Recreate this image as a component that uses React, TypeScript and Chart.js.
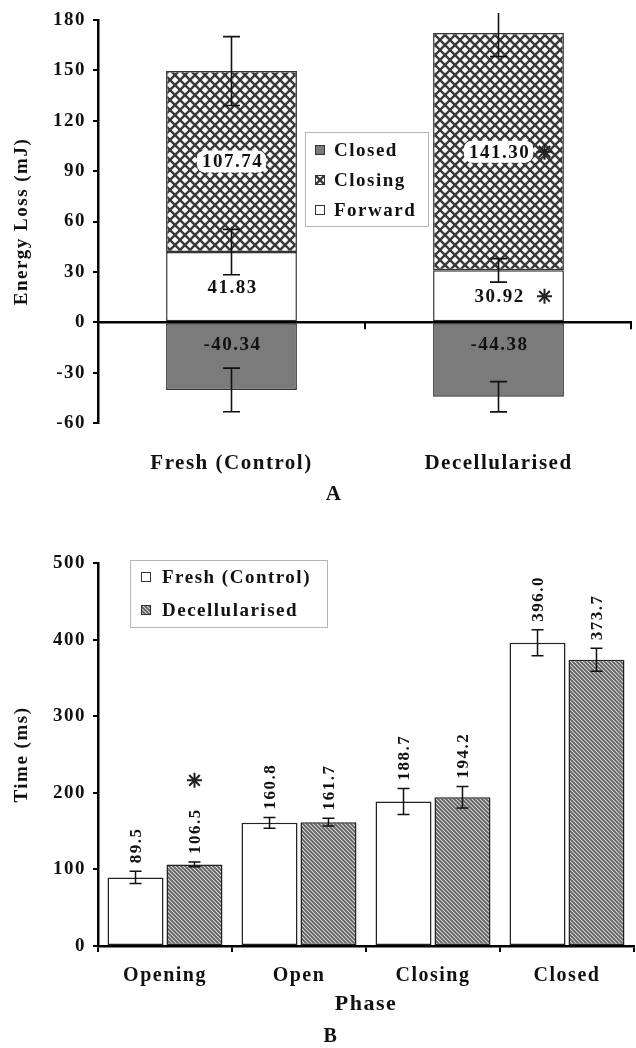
import React, { useEffect, useRef } from "react";
import { Chart, registerables } from "chart.js";

Chart.register(...registerables);

// ---------- Panel A data ----------
const groupsA = ["Fresh (Control)", "Decellularised"];
const forwardVals = [41.83, 30.92];
const closingVals = [107.74, 141.3];
const closedVals = [-40.34, -44.38];
const forwardErr = [13.5, 7];
const closingErr = [20.5, 14];
const closedErr = [13, 9];
const forwardSig = [false, true];
const closingSig = [false, true];
const yMinA = -60;
const yMaxA = 180;
const yStepA = 30;

// ---------- Panel B data ----------
const phases = ["Opening", "Open", "Closing", "Closed"];
const freshTimes = [89.5, 160.8, 188.7, 396.0];
const freshErr = [8, 7, 17, 17];
const decellTimes = [106.5, 161.7, 194.2, 373.7];
const decellErr = [3, 5, 14, 15];
const freshSig = [false, false, false, false];
const decellSig = [true, false, false, false];
const yMinB = 0;
const yMaxB = 500;
const yStepB = 100;

const FAMILY = "'Liberation Serif', 'Times New Roman', serif";
const INK = "#111";

function crossPattern(): CanvasPattern | string {
  const s = 10;
  const c = document.createElement("canvas");
  c.width = s;
  c.height = s;
  const g = c.getContext("2d");
  if (!g) return "#888";
  g.fillStyle = "#fff";
  g.fillRect(0, 0, s, s);
  g.strokeStyle = "#3a3a3a";
  g.lineWidth = 2.4;
  for (const o of [-s, 0, s]) {
    g.beginPath();
    g.moveTo(o - 3, -3);
    g.lineTo(o + s + 3, s + 3);
    g.stroke();
    g.beginPath();
    g.moveTo(o - 3, s + 3);
    g.lineTo(o + s + 3, -3);
    g.stroke();
  }
  return g.createPattern(c, "repeat") || "#888";
}

function diagPattern(): CanvasPattern | string {
  const s = 4;
  const c = document.createElement("canvas");
  c.width = s;
  c.height = s;
  const g = c.getContext("2d");
  if (!g) return "#777";
  g.fillStyle = "#5e5e5e";
  g.fillRect(0, 0, s, s);
  g.strokeStyle = "#dcdcdc";
  g.lineWidth = 1.1;
  for (const o of [-s, 0, s]) {
    g.beginPath();
    g.moveTo(o - 2, -2);
    g.lineTo(o + s + 2, s + 2);
    g.stroke();
  }
  return g.createPattern(c, "repeat") || "#777";
}

function errBar(ctx: CanvasRenderingContext2D, x: number, yScale: any, v: number, e: number, half: number) {
  const y1 = yScale.getPixelForValue(v + e);
  const y2 = yScale.getPixelForValue(v - e);
  ctx.beginPath();
  ctx.moveTo(x, y1);
  ctx.lineTo(x, y2);
  ctx.moveTo(x - half, y1);
  ctx.lineTo(x + half, y1);
  ctx.moveTo(x - half, y2);
  ctx.lineTo(x + half, y2);
  ctx.stroke();
}

function asterisk(ctx: CanvasRenderingContext2D, x: number, y: number, r: number) {
  ctx.save();
  ctx.lineWidth = 2;
  ctx.strokeStyle = "#222";
  ctx.beginPath();
  for (let k = 0; k < 4; k++) {
    const a = (k * Math.PI) / 4;
    ctx.moveTo(x - r * Math.cos(a), y - r * Math.sin(a));
    ctx.lineTo(x + r * Math.cos(a), y + r * Math.sin(a));
  }
  ctx.stroke();
  ctx.restore();
}

function drawSwatch(ctx: CanvasRenderingContext2D, x: number, y: number, s: number, fill: any) {
  ctx.fillStyle = fill;
  ctx.fillRect(x, y, s, s);
  ctx.strokeStyle = "#333";
  ctx.lineWidth = 1;
  ctx.strokeRect(x + 0.5, y + 0.5, s - 1, s - 1);
}

const spacingPlugin = {
  id: "spacing",
  beforeDraw(chart: any) {
    (chart.ctx as any).letterSpacing = "1.5px";
  },
  afterDraw(chart: any) {
    (chart.ctx as any).letterSpacing = "0px";
  },
};

export default function App() {
  const refA = useRef<HTMLCanvasElement>(null);
  const refB = useRef<HTMLCanvasElement>(null);

  useEffect(() => {
    const cross = crossPattern();
    const diag = diagPattern();
    const closedFill = "#7b7b7b";

    const decorA = {
      id: "decorA",
      afterDatasetsDraw(chart: any) {
        const { ctx, chartArea, scales, width, height } = chart;
        const xs = scales.x;
        const ys = scales.y;
        const y0 = ys.getPixelForValue(0);
        ctx.save();
        // zero line
        ctx.strokeStyle = "#000";
        ctx.lineWidth = 2.5;
        ctx.beginPath();
        ctx.moveTo(chartArea.left, y0);
        ctx.lineTo(chartArea.right, y0);
        ctx.stroke();
        // category boundary ticks
        const cw = (chartArea.right - chartArea.left) / groupsA.length;
        ctx.lineWidth = 2;
        ctx.beginPath();
        for (let i = 1; i <= groupsA.length; i++) {
          const bx = chartArea.left + i * cw - (i === groupsA.length ? 1 : 0);
          ctx.moveTo(bx, y0);
          ctx.lineTo(bx, y0 + 7);
        }
        ctx.stroke();
        // error bars (clipped a little above the plot top, like the source)
        ctx.save();
        ctx.beginPath();
        ctx.rect(0, chartArea.top - 7, width, height);
        ctx.clip();
        ctx.strokeStyle = "#111";
        ctx.lineWidth = 1.6;
        groupsA.forEach((_, i) => {
          const cx = xs.getPixelForValue(i);
          errBar(ctx, cx, ys, forwardVals[i], forwardErr[i], 8.5);
          errBar(ctx, cx, ys, forwardVals[i] + closingVals[i], closingErr[i], 8.5);
          errBar(ctx, cx, ys, closedVals[i], closedErr[i], 8.5);
        });
        ctx.restore();
        // value labels
        ctx.font = `bold 19px ${FAMILY}`;
        ctx.textAlign = "center";
        ctx.textBaseline = "middle";
        groupsA.forEach((_, i) => {
          const cx = xs.getPixelForValue(i);
          // closing
          const tC = closingVals[i].toFixed(2);
          const yc = ys.getPixelForValue(forwardVals[i] + closingVals[i] / 2);
          const wC = ctx.measureText(tC).width;
          ctx.fillStyle = "#fff";
          ctx.beginPath();
          ctx.roundRect(cx - wC / 2 - 4, yc - 11, wC + 8, 22, 8);
          ctx.fill();
          ctx.fillStyle = INK;
          ctx.fillText(tC, cx + 1, yc + 1);
          if (closingSig[i]) asterisk(ctx, cx + 46, yc, 8);
          // forward
          const tF = forwardVals[i].toFixed(2);
          const yf = ys.getPixelForValue(forwardVals[i] / 2);
          ctx.fillStyle = INK;
          ctx.fillText(tF, cx + 1, yf + 1);
          if (forwardSig[i]) asterisk(ctx, cx + 46, yf, 7.5);
          // closed
          const tD = closedVals[i].toFixed(2);
          ctx.fillText(tD, cx + 1, y0 + 23);
        });
        // panel letter
        ctx.font = `bold 21px ${FAMILY}`;
        ctx.fillText("A", 334, 495);
        // legend
        ctx.strokeStyle = "#b5b5b5";
        ctx.lineWidth = 1;
        ctx.strokeRect(305.5, 132.5, 123, 94);
        const items: [string, any][] = [
          ["Closed", closedFill],
          ["Closing", cross],
          ["Forward", "#fff"],
        ];
        ctx.font = `bold 19px ${FAMILY}`;
        ctx.textAlign = "left";
        items.forEach(([t, f], k) => {
          const iy = 150 + k * 30;
          drawSwatch(ctx, 315, iy - 5, 10, f);
          ctx.fillStyle = INK;
          ctx.fillText(t, 334, iy + 1);
        });
        ctx.restore();
      },
    };

    const decorB = {
      id: "decorB",
      afterDatasetsDraw(chart: any) {
        const { ctx, scales } = chart;
        const ys = scales.y;
        ctx.save();
        ctx.strokeStyle = "#111";
        ctx.lineWidth = 1.5;
        const sets = [
          { vals: freshTimes, errs: freshErr, sig: freshSig },
          { vals: decellTimes, errs: decellErr, sig: decellSig },
        ];
        sets.forEach((s, d) => {
          const meta = chart.getDatasetMeta(d);
          s.vals.forEach((v, i) => {
            const cx = meta.data[i].x;
            errBar(ctx, cx, ys, v, s.errs[i], 6);
          });
        });
        ctx.font = `bold 17px ${FAMILY}`;
        ctx.fillStyle = INK;
        sets.forEach((s, d) => {
          const meta = chart.getDatasetMeta(d);
          s.vals.forEach((v, i) => {
            const cx = meta.data[i].x;
            const top = ys.getPixelForValue(v + s.errs[i]) - 8;
            const t = v.toFixed(1);
            const w = ctx.measureText(t).width;
            ctx.save();
            ctx.translate(cx, top);
            ctx.rotate(-Math.PI / 2);
            ctx.textAlign = "left";
            ctx.textBaseline = "middle";
            ctx.fillText(t, 0, 1);
            ctx.restore();
            if (s.sig[i]) asterisk(ctx, cx, top - w - 28, 7.5);
          });
        });
        // panel letter
        ctx.font = `bold 20px ${FAMILY}`;
        ctx.textAlign = "center";
        ctx.textBaseline = "middle";
        ctx.fillText("B", 331, 502);
        // legend
        ctx.strokeStyle = "#b5b5b5";
        ctx.lineWidth = 1;
        ctx.strokeRect(130.5, 25.5, 197, 67);
        ctx.font = `bold 19px ${FAMILY}`;
        ctx.textAlign = "left";
        const items: [string, any][] = [
          ["Fresh (Control)", "#fff"],
          ["Decellularised", diag],
        ];
        items.forEach(([t, f], k) => {
          const iy = 42 + k * 33;
          drawSwatch(ctx, 141, iy - 5, 10, f);
          ctx.fillStyle = INK;
          ctx.fillText(t, 162, iy + 1);
        });
        ctx.restore();
      },
    };

    const tickFont = { family: FAMILY, size: 19, weight: "bold" as const };
    const catFontA = { family: FAMILY, size: 21, weight: "bold" as const };
    const catFontB = { family: FAMILY, size: 20, weight: "bold" as const };
    const titleFont = { family: FAMILY, size: 19, weight: "bold" as const };

    const chartA = new Chart(refA.current as HTMLCanvasElement, {
      type: "bar",
      data: {
        labels: groupsA,
        datasets: [
          {
            label: "Forward",
            data: forwardVals,
            backgroundColor: "#fff",
            borderColor: "#333",
            borderWidth: 1.5,
            borderSkipped: false,
          },
          {
            label: "Closing",
            data: closingVals,
            backgroundColor: cross as any,
            borderColor: "#333",
            borderWidth: 1.5,
            borderSkipped: false,
          },
          {
            label: "Closed",
            data: closedVals,
            backgroundColor: closedFill,
            borderColor: "#333",
            borderWidth: 1.5,
            borderSkipped: false,
          },
        ],
      },
      options: {
        responsive: false,
        animation: false,
        devicePixelRatio: 1,
        layout: { padding: { top: 20, right: 4, left: 0, bottom: 0 } },
        datasets: { bar: { categoryPercentage: 1, barPercentage: 0.49 } },
        plugins: { legend: { display: false }, tooltip: { enabled: false } },
        scales: {
          x: {
            stacked: true,
            grid: { display: false },
            border: { display: false },
            ticks: { font: catFontA, color: INK, padding: 20, maxRotation: 0 },
            afterFit: (s: any) => {
              s.height = 92;
            },
          },
          y: {
            stacked: true,
            min: yMinA,
            max: yMaxA,
            ticks: { stepSize: yStepA, font: tickFont, color: INK, padding: 7 },
            grid: { drawOnChartArea: false, drawTicks: true, tickLength: 5, color: "#000", lineWidth: 2 },
            border: { display: true, color: "#000", width: 2.5 },
            title: {
              display: true,
              text: "Energy Loss (mJ)",
              color: INK,
              font: titleFont,
              padding: { top: 11, bottom: 0 },
            },
            afterFit: (s: any) => {
              s.width = 98;
            },
          },
        },
      },
      plugins: [spacingPlugin, decorA],
    } as any);

    const chartB = new Chart(refB.current as HTMLCanvasElement, {
      type: "bar",
      data: {
        labels: phases,
        datasets: [
          {
            label: "Fresh (Control)",
            data: freshTimes,
            backgroundColor: "#fff",
            borderColor: "#222",
            borderWidth: 1.5,
            borderSkipped: false,
          },
          {
            label: "Decellularised",
            data: decellTimes,
            backgroundColor: diag as any,
            borderColor: "#222",
            borderWidth: 1.5,
            borderSkipped: false,
          },
        ],
      },
      options: {
        responsive: false,
        animation: false,
        devicePixelRatio: 1,
        layout: { padding: { top: 28, right: 2, left: 0, bottom: 0 } },
        datasets: { bar: { categoryPercentage: 0.88, barPercentage: 0.95 } },
        plugins: { legend: { display: false }, tooltip: { enabled: false } },
        scales: {
          x: {
            grid: { drawOnChartArea: false, drawTicks: true, tickLength: 6, color: "#000", lineWidth: 2, offset: true },
            border: { display: true, color: "#000", width: 2.5 },
            ticks: { font: catFontB, color: INK, padding: 12, maxRotation: 0 },
            title: {
              display: true,
              text: "Phase",
              color: INK,
              font: { family: FAMILY, size: 22, weight: "bold" },
              padding: { top: 0, bottom: 30 },
            },
            afterFit: (s: any) => {
              s.height = 102;
            },
          },
          y: {
            min: yMinB,
            max: yMaxB,
            ticks: { stepSize: yStepB, font: tickFont, color: INK, padding: 7 },
            grid: { drawOnChartArea: false, drawTicks: true, tickLength: 5, color: "#000", lineWidth: 2 },
            border: { display: true, color: "#000", width: 2.5 },
            title: {
              display: true,
              text: "Time (ms)",
              color: INK,
              font: titleFont,
              padding: { top: 11, bottom: 0 },
            },
            afterFit: (s: any) => {
              s.width = 98;
            },
          },
        },
      },
      plugins: [spacingPlugin, decorB],
    } as any);

    return () => {
      chartA.destroy();
      chartB.destroy();
    };
  }, []);

  return (
    <div style={{ position: "absolute", left: 0, top: 0, width: 636, height: 1048, background: "#fff" }}>
      <canvas ref={refA} width={636} height={515} style={{ position: "absolute", left: 0, top: 0 }} />
      <canvas ref={refB} width={636} height={513} style={{ position: "absolute", left: 0, top: 535 }} />
    </div>
  );
}
